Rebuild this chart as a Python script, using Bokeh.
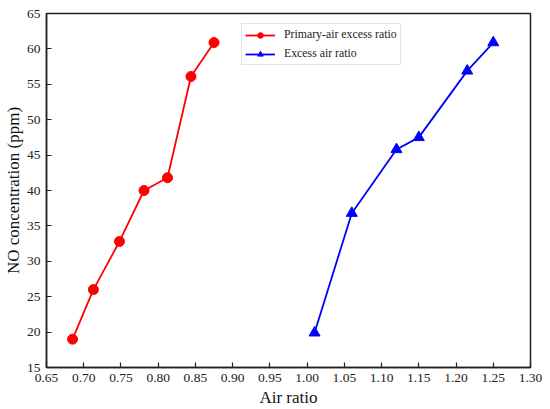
from bokeh.plotting import figure
from bokeh.models import Range1d, SingleIntervalTicker, NumeralTickFormatter, Legend, LegendItem
from bokeh.embed import file_html
from bokeh.resources import INLINE

# Data
primary_x = [0.685, 0.713, 0.748, 0.781, 0.8125, 0.844, 0.875]
primary_y = [19.0, 26.0, 32.8, 40.0, 41.8, 56.1, 60.9]
excess_x = [1.01, 1.06, 1.12, 1.15, 1.215, 1.25]
excess_y = [19.9, 36.8, 45.8, 47.5, 56.9, 60.9]
series_labels = ["Primary-air excess ratio", "Excess air ratio"]
x_label = "Air ratio"
y_label = "NO concentration (ppm)"

FONT = "Liberation Serif"

p = figure(width=550, height=409, output_backend="svg", toolbar_location=None,
           x_range=Range1d(0.65, 1.30), y_range=Range1d(15, 65),
           min_border_left=46, min_border_right=20, min_border_top=13, min_border_bottom=41)

p.background_fill_color = "white"
p.border_fill_color = "white"
p.outline_line_color = "#222222"
p.outline_line_width = 1.5
p.xgrid.visible = False
p.ygrid.visible = False

for ax in (p.xaxis[0], p.yaxis[0]):
    ax.axis_line_color = "#222222"
    ax.axis_line_width = 1.5
    ax.major_tick_in = 5
    ax.major_tick_out = 0
    ax.major_tick_line_color = "#222222"
    ax.major_tick_line_width = 1.2
    ax.minor_tick_line_color = None
    ax.major_label_text_font = FONT
    ax.major_label_text_font_size = "13.5px"
    ax.major_label_text_color = "#222222"
    ax.axis_label_text_font = FONT
    ax.axis_label_text_font_size = "17px"
    ax.axis_label_text_font_style = "normal"
    ax.axis_label_text_color = "#111111"

p.xaxis[0].ticker = SingleIntervalTicker(interval=0.05)
p.yaxis[0].ticker = SingleIntervalTicker(interval=5)
p.xaxis[0].formatter = NumeralTickFormatter(format="0.00")
p.yaxis[0].formatter = NumeralTickFormatter(format="0")
p.xaxis[0].axis_label = x_label
p.yaxis[0].axis_label = y_label
p.xaxis[0].major_label_standoff = 2
p.yaxis[0].major_label_standoff = 2
p.xaxis[0].axis_label_standoff = 3
p.yaxis[0].axis_label_standoff = 1

r1l = p.line(primary_x, primary_y, line_color="#ff0000", line_width=1.8)
r1s = p.scatter(primary_x, primary_y, marker="circle", size=10, fill_color="#ff0000", line_color="#ff0000")
r2l = p.line(excess_x, excess_y, line_color="#0000ff", line_width=1.8)
r2s = p.scatter(excess_x, excess_y, marker="triangle", size=11, fill_color="#0000ff", line_color="#0000ff")

legend = Legend(items=[LegendItem(label=series_labels[0], renderers=[r1l, r1s]),
                       LegendItem(label=series_labels[1], renderers=[r2l, r2s])],
                location=(195, 302))
legend.label_text_font = FONT
legend.label_text_font_size = "11.8px"
legend.label_text_color = "#222222"
legend.glyph_width = 30
legend.glyph_height = 14
legend.label_height = 14
legend.label_standoff = 9
legend.spacing = 4
legend.padding = 3
legend.margin = 0
legend.border_line_color = "#cccccc"
legend.border_line_width = 1
legend.background_fill_alpha = 1.0
p.add_layout(legend, "center")

open("out.html", "w").write(file_html(p, INLINE))
